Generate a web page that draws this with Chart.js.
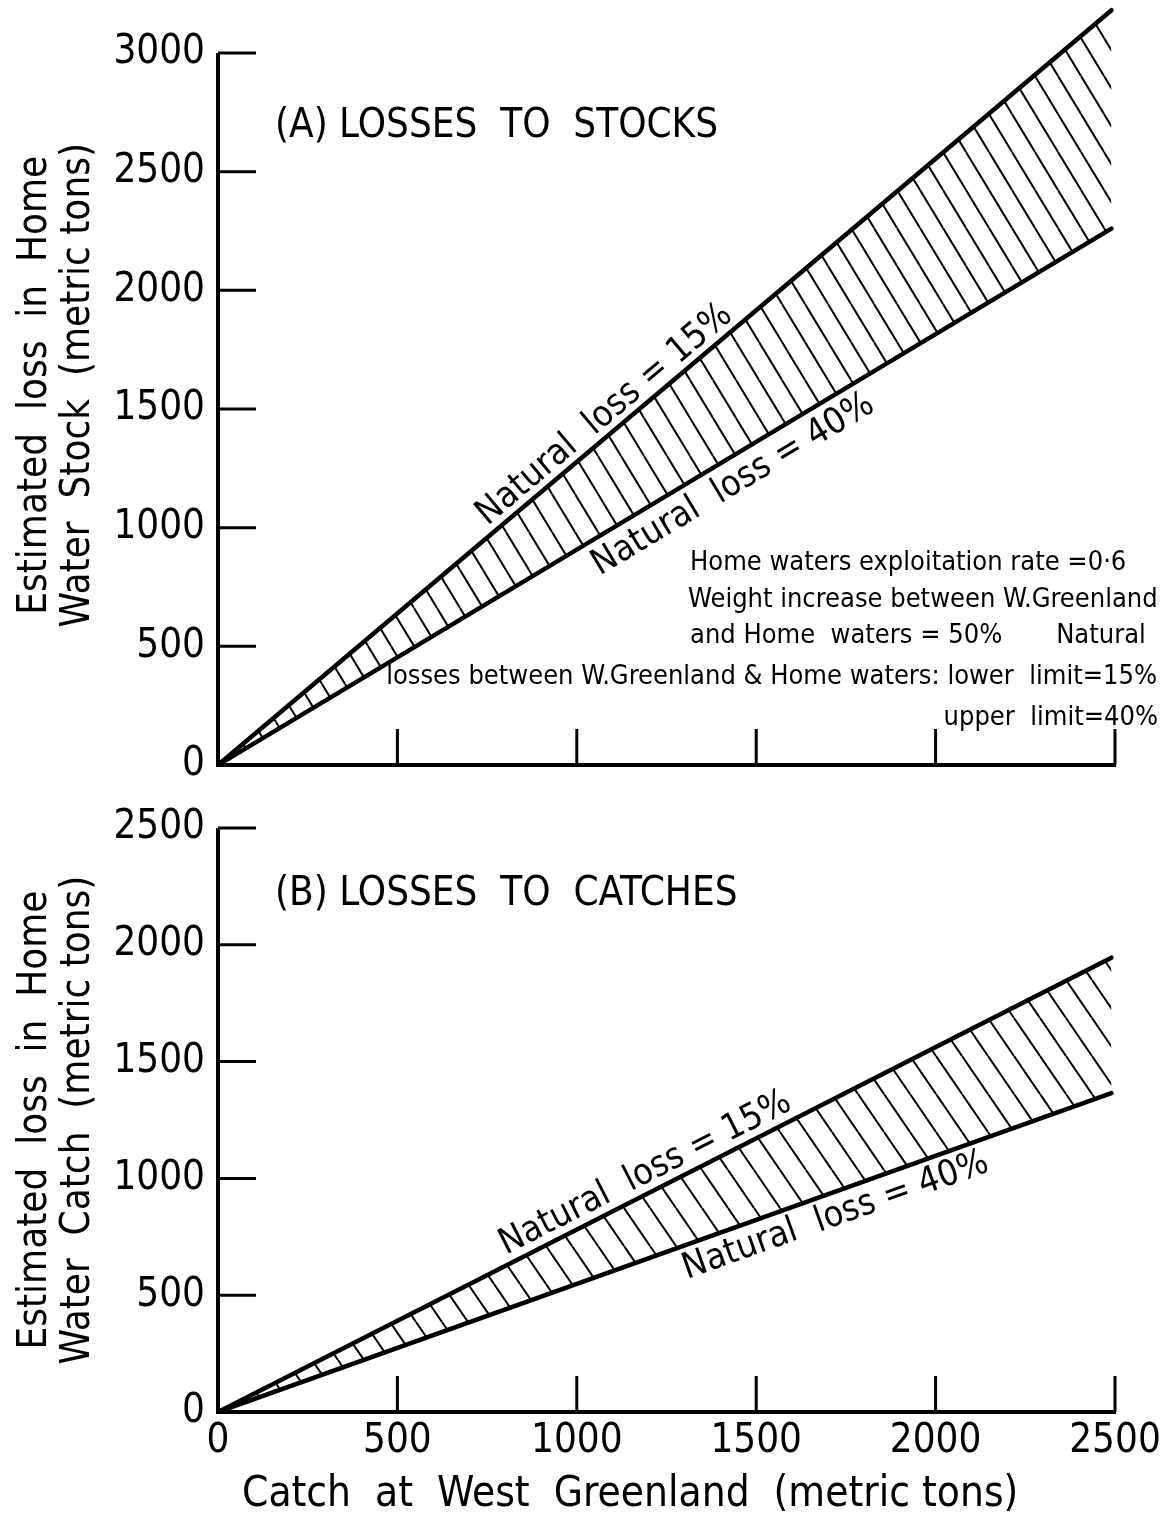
<!DOCTYPE html>
<html>
<head>
<meta charset="utf-8">
<script src="https://cdn.jsdelivr.net/npm/chart.js@4.4.0/dist/chart.umd.min.js"></script>
<style>
  html, body { margin: 0; padding: 0; background: #fff; }
  #wrap { position: relative; width: 1168px; height: 1515px; background: #fff; }
  canvas { position: absolute; left: 0; }
  #chartA { top: 0; }
  #chartB { top: 790px; }
</style>
</head>
<body>
<div id="wrap">
  <canvas id="chartA" width="1168" height="790"></canvas>
  <canvas id="chartB" width="1168" height="725"></canvas>
</div>
<script>
// --- DADOS ---
const catchWG = [0, 2490];               // captura na Groenlândia Ocidental (t)
const stockLoss15 = [0, 3180];           // (A) perda natural 15%
const stockLoss40 = [0, 2260];           // (A) perda natural 40%
const catchLoss15 = [0, 1945];           // (B) perda natural 15%
const catchLoss40 = [0, 1365];           // (B) perda natural 40%

const xTicks = [0, 500, 1000, 1500, 2000, 2500];
const stockTicks = [0, 500, 1000, 1500, 2000, 2500, 3000];
const catchTicks = [0, 500, 1000, 1500, 2000, 2500];

const infoLines = [
    'Home waters exploitation rate =0·6',
    'Weight increase between W.Greenland',
    'and Home  waters = 50%       Natural',
    'losses between W.Greenland & Home waters: lower  limit=15%',
    'upper  limit=40%'
];

const FONT = "'DejaVu Sans Condensed', 'Liberation Sans Narrow', sans-serif";

// --- FUNÇÕES AUXILIARES ---
function points(xs, ys) {
    return xs.map((x, i) => ({ x: x, y: ys[i] }));
}

// hachura diagonal "\" feita num pequeno canvas
function makeHatch(w, h) {
    const c = document.createElement('canvas');
    c.width = w;
    c.height = h;
    const g = c.getContext('2d');
    g.strokeStyle = '#000';
    g.lineWidth = 2;
    g.beginPath();
    [-w, 0, w].forEach(dx => {
        g.moveTo(dx, 0);
        g.lineTo(dx + w, h);
    });
    g.stroke();
    return g.createPattern(c, 'repeat');
}

// eixo Y até o último tick e marcas viradas para dentro
const inwardTicks = {
    id: 'inwardTicks',
    afterDatasetsDraw(chart) {
        const ctx = chart.ctx, a = chart.chartArea;
        const xs = chart.scales.x, ys = chart.scales.y;
        const yTop = ys.getPixelForValue(ys.ticks[ys.ticks.length - 1].value);
        ctx.save();
        ctx.strokeStyle = '#000';
        ctx.lineWidth = 4;
        ctx.beginPath();
        ctx.moveTo(a.left, a.bottom + 2);
        ctx.lineTo(a.left, yTop);
        ctx.stroke();
        ctx.lineWidth = 3;
        ctx.beginPath();
        xs.ticks.forEach(t => {
            if (t.value === 0) return;
            const px = xs.getPixelForValue(t.value);
            ctx.moveTo(px, a.bottom);
            ctx.lineTo(px, a.bottom - 36);
        });
        ys.ticks.forEach(t => {
            if (t.value === 0) return;
            const py = ys.getPixelForValue(t.value);
            ctx.moveTo(a.left, py);
            ctx.lineTo(a.left + 38, py);
        });
        ctx.stroke();
        ctx.restore();
    }
};

// textos: título do painel, rótulos das retas e notas
function notesPlugin(cfg) {
    return {
        id: 'notes',
        afterDraw(chart) {
            const ctx = chart.ctx, xs = chart.scales.x, ys = chart.scales.y;
            ctx.save();
            ctx.fillStyle = '#000';
            ctx.textBaseline = 'middle';

            ctx.font = `40px ${FONT}`;
            ctx.textAlign = 'left';
            ctx.fillText(cfg.title, 275, cfg.titleY);

            cfg.lineLabels.forEach(l => {
                const d = chart.data.datasets[l.ds].data;
                const p0 = d[0], p1 = d[d.length - 1];
                const ang = Math.atan2(
                    ys.getPixelForValue(p1.y) - ys.getPixelForValue(p0.y),
                    xs.getPixelForValue(p1.x) - xs.getPixelForValue(p0.x)
                );
                const yv = p0.y + (p1.y - p0.y) * (l.x - p0.x) / (p1.x - p0.x);
                const px = xs.getPixelForValue(l.x) + Math.sin(ang) * l.off;
                const py = ys.getPixelForValue(yv) - Math.cos(ang) * l.off;
                ctx.save();
                ctx.translate(px, py);
                ctx.rotate(ang);
                ctx.font = `36px ${FONT}`;
                ctx.textAlign = 'center';
                ctx.fillText(l.text, 0, 0);
                ctx.restore();
            });

            (cfg.info || []).forEach(n => {
                ctx.font = `27px ${FONT}`;
                ctx.textAlign = n.align;
                ctx.fillText(n.text, n.x, n.y);
            });
            ctx.restore();
        }
    };
}

function buildOptions(yTicks, yMax, yTitle, showX, xHeight, padTop) {
    return {
        responsive: false,
        animation: false,
        devicePixelRatio: 1,
        layout: { padding: { top: padTop, right: 53, bottom: 0, left: 0 } },
        plugins: { legend: { display: false }, tooltip: { enabled: false } },
        scales: {
            x: {
                type: 'linear',
                min: 0,
                max: 2500,
                afterBuildTicks: s => { s.ticks = xTicks.map(v => ({ value: v })); },
                afterFit: s => {
                    s.height = xHeight;
                    s.paddingLeft = 0;
                    s.paddingRight = 0;
                },
                grid: { display: false, drawTicks: false },
                border: { display: true, color: '#000', width: 4 },
                ticks: {
                    display: showX,
                    color: '#000',
                    padding: 6,
                    maxRotation: 0,
                    callback: v => String(v),
                    font: { family: FONT, size: 40 }
                },
                title: {
                    display: showX,
                    align: 'start',
                    text: '  Catch  at  West  Greenland  (metric tons)',
                    color: '#000',
                    font: { family: FONT, size: 42, lineHeight: 0.95 },
                    padding: { top: 0, bottom: 0 }
                }
            },
            y: {
                type: 'linear',
                min: 0,
                max: yMax,
                afterBuildTicks: s => { s.ticks = yTicks.map(v => ({ value: v })); },
                afterFit: s => {
                    s.width = 218;
                    s.paddingTop = 0;
                    s.paddingBottom = 0;
                },
                grid: { display: false, drawTicks: false },
                border: { display: false },
                ticks: {
                    color: '#000',
                    padding: 13,
                    callback: v => String(v),
                    font: { family: FONT, size: 40 }
                },
                title: {
                    display: true,
                    text: yTitle,
                    color: '#000',
                    font: { family: FONT, size: 40, lineHeight: 1.07 },
                    padding: { top: 14, bottom: 0 }
                }
            }
        }
    };
}

function lineDataset(xs, ys, fillCfg, bg) {
    return {
        data: points(xs, ys),
        borderColor: '#000',
        borderWidth: 4.5,
        borderCapStyle: 'round',
        pointRadius: 0,
        fill: fillCfg,
        backgroundColor: bg
    };
}

// --- PAINEL (A) ---
// eixo Y vai até 3200 para a reta de 15% caber; ticks só até 3000
new Chart(document.getElementById('chartA'), {
    type: 'line',
    data: {
        datasets: [
            lineDataset(catchWG, stockLoss15, '+1', makeHatch(23, 38)),
            lineDataset(catchWG, stockLoss40, false, 'transparent')
        ]
    },
    options: buildOptions(stockTicks, 3200,
        ['Estimated  loss  in  Home', 'Water  Stock  (metric tons)'], false, 25, 5.5),
    plugins: [inwardTicks, notesPlugin({
        title: '(A) LOSSES  TO  STOCKS',
        titleY: 127,
        lineLabels: [
            { ds: 0, x: 1110, off: 18, text: 'Natural  loss = 15%' },
            { ds: 1, x: 1400, off: -25, text: 'Natural  loss = 40%' }
        ],
        info: [
            { text: infoLines[0], x: 690, y: 563, align: 'left' },
            { text: infoLines[1], x: 688, y: 600, align: 'left' },
            { text: infoLines[2], x: 690, y: 636, align: 'left' },
            { text: infoLines[3], x: 1157, y: 677, align: 'right' },
            { text: infoLines[4], x: 1158, y: 718, align: 'right' }
        ]
    })]
});

// --- PAINEL (B) ---
new Chart(document.getElementById('chartB'), {
    type: 'line',
    data: {
        datasets: [
            lineDataset(catchWG, catchLoss15, '+1', makeHatch(26, 38)),
            lineDataset(catchWG, catchLoss40, false, 'transparent')
        ]
    },
    options: buildOptions(catchTicks, 2500,
        ['Estimated  loss  in  Home', 'Water  Catch  (metric tons)'], true, 103, 38),
    plugins: [inwardTicks, notesPlugin({
        title: '(B) LOSSES  TO  CATCHES',
        titleY: 105,
        lineLabels: [
            { ds: 0, x: 1215, off: 19, text: 'Natural  loss = 15%' },
            { ds: 1, x: 1700, off: -23, text: 'Natural  loss = 40%' }
        ]
    })]
});
</script>
</body>
</html>
